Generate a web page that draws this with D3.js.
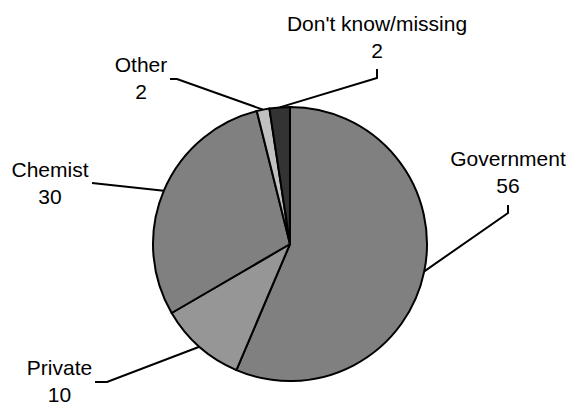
<!DOCTYPE html>
<html>
<head>
<meta charset="utf-8">
<script src="https://cdn.jsdelivr.net/npm/d3@7/dist/d3.min.js"></script>
<style>
  html, body { margin: 0; padding: 0; background: #fff; }
  svg { display: block; }
  text { font-family: "Liberation Sans", Arial, sans-serif; font-size: 21px; fill: #000; }
</style>
</head>
<body>
<svg id="chart" width="572" height="405"></svg>
<script>
// ---- data ----
const categories = ["Government", "Private", "Chemist", "Other", "Don't know/missing"];
const values = [56.4, 10.2, 29.5, 1.5, 2.4];
const colors = ["#808080", "#969696", "#808080", "#c0c0c0", "#333333"];

// ---- layout (label positions, not data) ----
const labelPos = [
  { x: 508, y: 166, pts: [[508, 205], [508, 213]] },
  { x: 59.5, y: 375, pts: [[95, 382], [107, 382]] },
  { x: 50, y: 177, pts: [[92, 183]] },
  { x: 141, y: 72, pts: [[170, 79], [177, 79]] },
  { x: 377, y: 31, pts: [[377, 69], [377, 78]] }
];

const cx = 290, cy = 244, R = 137, lineGap = 27;

const svg = d3.select("#chart");
const g = svg.append("g").attr("transform", `translate(${cx},${cy})`);

const data = categories.map((c, i) => ({ name: c, value: values[i], color: colors[i], lp: labelPos[i] }));

const pie = d3.pie().value(d => d.value).sort(null).startAngle(0).endAngle(2 * Math.PI);
const arcs = pie(data);
const arc = d3.arc().innerRadius(0).outerRadius(R);
const edgeArc = d3.arc().innerRadius(R).outerRadius(R);

g.selectAll("path.slice")
  .data(arcs)
  .join("path")
  .attr("class", "slice")
  .attr("d", arc)
  .attr("fill", d => d.data.color)
  .attr("stroke", "#000")
  .attr("stroke-width", 2)
  .attr("stroke-linejoin", "round");

const fmt = d3.format(".0f");
const line = d3.line();

arcs.forEach(a => {
  const lp = a.data.lp;
  const mid = (a.startAngle + a.endAngle) / 2;
  const px = cx + R * Math.sin(mid);
  const py = cy - R * Math.cos(mid);
  const pts = lp.pts.concat([[px, py]]);
  svg.append("path")
    .attr("d", line(pts))
    .attr("fill", "none")
    .attr("stroke", "#000")
    .attr("stroke-width", 2);
  const t = svg.append("text").attr("text-anchor", "middle");
  t.append("tspan").attr("x", lp.x).attr("y", lp.y).text(a.data.name);
  t.append("tspan").attr("x", lp.x).attr("y", lp.y + lineGap).text(fmt(a.data.value));
});
</script>
</body>
</html>
